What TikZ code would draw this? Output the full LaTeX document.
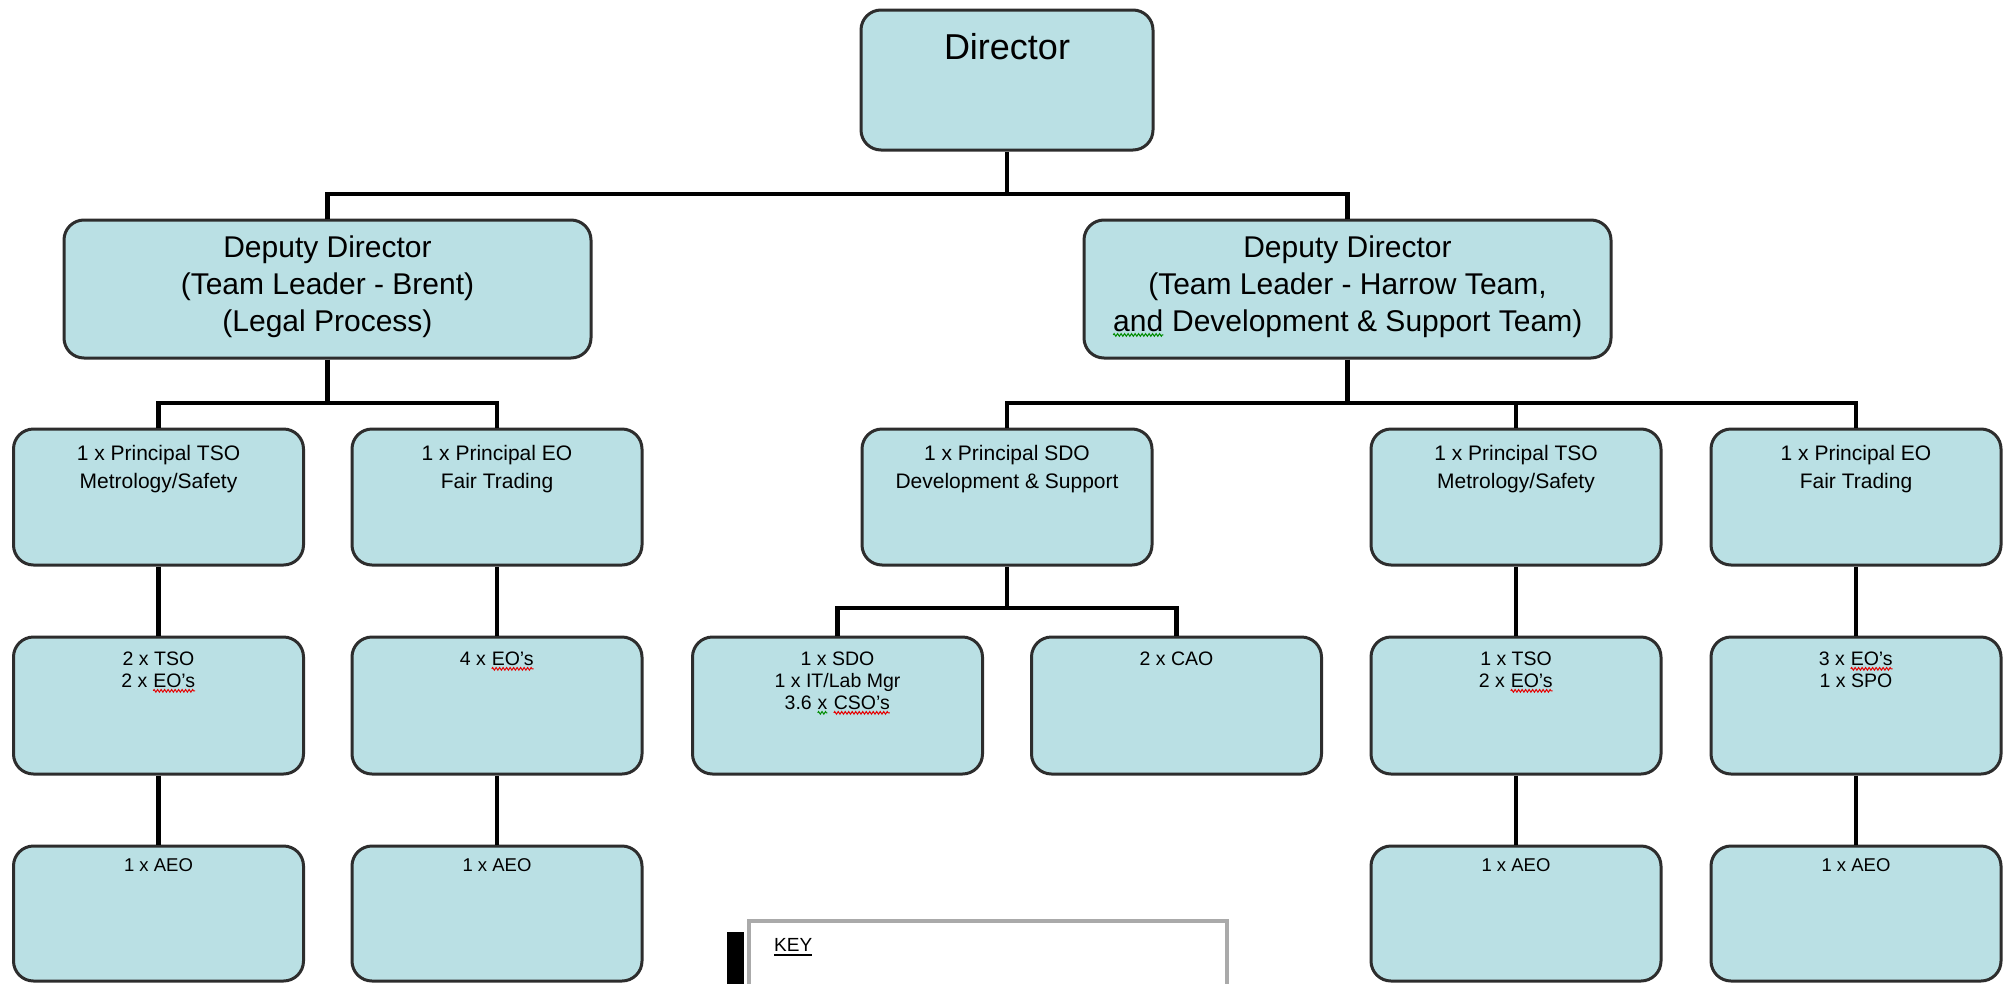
\documentclass[tikz,border=0pt]{standalone}
\usepackage{fontspec}
\setmainfont{Liberation Sans}
\usetikzlibrary{decorations.pathmorphing}
\definecolor{boxfill}{RGB}{186,224,228}
\definecolor{boxline}{RGB}{45,45,45}
\definecolor{sqred}{RGB}{230,0,0}
\definecolor{sqgreen}{RGB}{0,140,0}
\definecolor{keyline}{RGB}{170,170,170}
\newcommand{\squig}[2]{\tikz[baseline=(sqw.base)]{\node[inner sep=0pt,outer sep=0pt] (sqw) {#2};\draw[#1,line width=1pt,decorate,decoration={zigzag,amplitude=1.3pt,segment length=3.5pt}] ([yshift=-3pt]sqw.base west) -- ([yshift=-3pt]sqw.base east);}}
\begin{document}
\begin{tikzpicture}[x=1pt,y=-1pt,
  orgbox/.style={draw=boxline,line width=3pt,fill=boxfill,rounded corners=20pt,inner sep=0pt},
  conn/.style={line width=4.5pt,black},
  txt/.style={anchor=north,inner sep=0pt,align=center,text=black},
  fdir/.style={font=\fontsize{36}{43}\selectfont},
  fdep/.style={font=\fontsize{30}{37}\selectfont},
  fprin/.style={font=\fontsize{21}{28}\selectfont},
  fstaff/.style={font=\fontsize{19.5}{22}\selectfont},
  faeo/.style={font=\fontsize{18.5}{22}\selectfont}]
\fill[white] (0,0) rectangle (2006,983);
\clip (0,0) rectangle (2006,983);

% Director
\node[orgbox,minimum width=292pt,minimum height=140pt] (dir) at (1007,80) {};
\node[txt,fdir] (dirt) at (1007,33) {Director};

% Deputies
\node[orgbox,minimum width=527pt,minimum height=138pt] (depL) at (327.5,289) {};
\node[txt,fdep] (depLt) at (327.5,236) {Deputy Director\\(Team Leader - Brent)\\(Legal Process)};
\node[orgbox,minimum width=527pt,minimum height=138pt] (depR) at (1347.5,289) {};
\node[txt,fdep] (depRt) at (1347.5,236) {Deputy Director\\(Team Leader - Harrow Team,\\\squig{sqgreen}{and} Development \& Support Team)};

% Principals
\foreach \n/\x in {pL1/158.5,pL2/497,pS/1007,pR2/1516,pR3/1856}
  \node[orgbox,minimum width=290pt,minimum height=136pt] (\n) at (\x,497) {};
\node[txt,fprin] (pL1t) at (158.5,445) {1 x Principal TSO\\Metrology/Safety};
\node[txt,fprin] (pL2t) at (497,445) {1 x Principal EO\\Fair Trading};
\node[txt,fprin] (pSt) at (1007,445) {1 x Principal SDO\\Development \& Support};
\node[txt,fprin] (pR2t) at (1516,445) {1 x Principal TSO\\Metrology/Safety};
\node[txt,fprin] (pR3t) at (1856,445) {1 x Principal EO\\Fair Trading};

% Staff
\foreach \n/\x in {mL1/158.5,mL2/497,mS1/837.5,mS2/1176.5,mR2/1516,mR3/1856}
  \node[orgbox,minimum width=290pt,minimum height=137pt] (\n) at (\x,705.5) {};
\node[txt,fstaff] (mL1t) at (158.5,652) {2 x TSO\\2 x \squig{sqred}{EO's}};
\node[txt,fstaff] (mL2t) at (497,652) {4 x \squig{sqred}{EO's}};
\node[txt,fstaff] (mS1t) at (837.5,652) {1 x SDO\\1 x IT/Lab Mgr\\3.6 \squig{sqgreen}{x} \squig{sqred}{CSO's}};
\node[txt,fstaff] (mS2t) at (1176.5,652) {2 x CAO};
\node[txt,fstaff] (mR2t) at (1516,652) {1 x TSO\\2 x \squig{sqred}{EO's}};
\node[txt,fstaff] (mR3t) at (1856,652) {3 x \squig{sqred}{EO's}\\1 x SPO};

% AEOs
\foreach \n/\x in {aL1/158.5,aL2/497,aR2/1516,aR3/1856}{
  \node[orgbox,minimum width=290pt,minimum height=135pt] (\n) at (\x,913.5) {};
  \node[txt,faeo] (\n t) at (\x,858) {1 x AEO};
}

% Connectors
\coordinate (b0) at (1007,194);
\draw[conn] (dir.south) -- (b0);
\draw[conn] (b0) -| (depL.north);
\draw[conn] (b0) -| (depR.north);
\coordinate (bL) at (327.5,403);
\draw[conn] (depL.south) -- (bL);
\draw[conn] (bL) -| (pL1.north);
\draw[conn] (bL) -| (pL2.north);
\coordinate (bR) at (1347.5,403);
\draw[conn] (depR.south) -- (bR);
\draw[conn] (bR) -| (pS.north);
\draw[conn] (bR) -| (pR2.north);
\draw[conn] (bR) -| (pR3.north);
\coordinate (bS) at (1007,608);
\draw[conn] (pS.south) -- (bS);
\draw[conn] (bS) -| (mS1.north);
\draw[conn] (bS) -| (mS2.north);
\foreach \a/\b in {pL1/mL1,pL2/mL2,pR2/mR2,pR3/mR3,mL1/aL1,mL2/aL2,mR2/aR2,mR3/aR3}
  \draw[conn] (\a.south) -- (\b.north);

% Key
\fill[black] (727,932) rectangle (744,995);
\node[draw=keyline,line width=3.5pt,fill=white,minimum width=478pt,minimum height=100pt,anchor=north west,inner sep=0pt] (key) at (747,919) {};
\node[anchor=base west,inner sep=0pt,font=\fontsize{19}{23}\selectfont] (keyt) at (774,951) {KEY};
\draw[line width=2.5pt] ([yshift=-4pt]keyt.base west) -- ([yshift=-4pt]keyt.base east);
\end{tikzpicture}
\end{document}
